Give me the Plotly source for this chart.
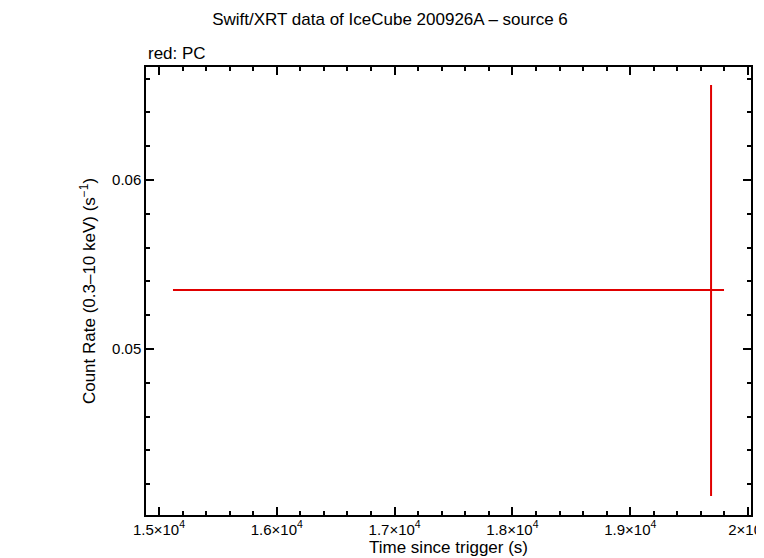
import plotly.graph_objects as go

# PC mode point
time = [19686]
time_lo = [15119]
time_hi = [19796]
rate = [0.05349]
rate_lo = [0.04130]
rate_hi = [0.06562]

xtick_vals = [15000, 16000, 17000, 18000, 19000, 20000]
xtick_text = ["1.5×10<sup>4</sup>", "1.6×10<sup>4</sup>", "1.7×10<sup>4</sup>",
              "1.8×10<sup>4</sup>", "1.9×10<sup>4</sup>", "2×10<sup>4</sup>"]

fig = go.Figure()
fig.add_trace(go.Scatter(
    x=time, y=rate, mode="markers", marker=dict(size=1, color="#e00000"),
    error_x=dict(type="data", symmetric=False,
                 array=[h - t for h, t in zip(time_hi, time)],
                 arrayminus=[t - l for t, l in zip(time, time_lo)],
                 color="#e00000", thickness=2, width=0),
    error_y=dict(type="data", symmetric=False,
                 array=[h - r for h, r in zip(rate_hi, rate)],
                 arrayminus=[r - l for r, l in zip(rate, rate_lo)],
                 color="#e00000", thickness=2, width=0),
    showlegend=False))

axis_style = dict(showline=True, linecolor="black", linewidth=1.5, mirror="allticks",
                  ticks="inside", ticklen=8, tickcolor="black", tickwidth=1.5,
                  showgrid=False, zeroline=False, automargin=False,
                  tickfont=dict(size=15, color="black"))

fig.update_xaxes(range=[14890, 20025], tickvals=xtick_vals, ticktext=xtick_text,
                 minor=dict(ticks="inside", ticklen=4, dtick=200, tickcolor="black"),
                 title=dict(text="Time since trigger (s)", font=dict(size=17, color="black"),
                            standoff=2),
                 **axis_style)
fig.update_yaxes(range=[0.04018, 0.06669], tickvals=[0.05, 0.06], ticktext=["0.05", "0.06"],
                 minor=dict(ticks="inside", ticklen=4, dtick=0.002, tickcolor="black"),
                 title=dict(text="Count Rate (0.3–10 keV) (s<sup>−1</sup>)",
                            font=dict(size=17, color="black"), standoff=12),
                 **axis_style)

fig.update_layout(
    width=764, height=558, plot_bgcolor="white", paper_bgcolor="white",
    font=dict(family="Liberation Sans, Arial, sans-serif"),
    margin=dict(l=138, r=21, t=59, b=51),
    title=dict(text="Swift/XRT data of IceCube 200926A – source 6", x=0.5, xanchor="center",
               y=0.99, yanchor="top", font=dict(size=17, color="black")),
    annotations=[dict(text="red: PC", xref="paper", yref="paper", x=0, y=1.005,
                      xanchor="left", yanchor="bottom", showarrow=False,
                      font=dict(size=17, color="black"))],
)

fig.write_html("out.html")
